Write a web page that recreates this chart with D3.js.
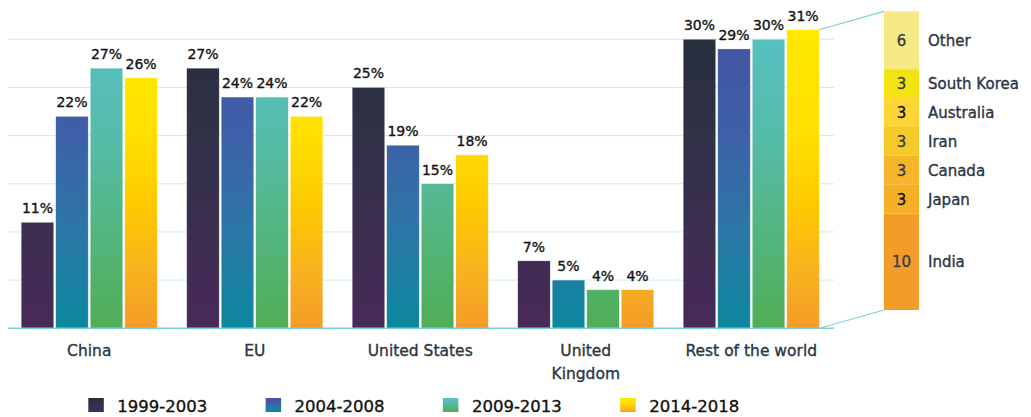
<!DOCTYPE html>
<html>
<head>
<meta charset="utf-8">
<script src="https://cdn.jsdelivr.net/npm/d3@7"></script>
<style>
  html, body { margin: 0; padding: 0; background: #ffffff; }
  svg { display: block; font-family: "DejaVu Sans", "Noto Sans", sans-serif; }
  svg text { stroke-width: 0.35px; paint-order: stroke; }
</style>
</head>
<body>
<svg id="chart" width="1031" height="417"></svg>
<script>
// Share of the total by region and period (%)
const regions = ["China", "EU", "United States", "United Kingdom", "Rest of the world"];
const regionLines = [["China"], ["EU"], ["United States"], ["United", "Kingdom"], ["Rest of the world"]];
const periods = ["1999-2003", "2004-2008", "2009-2013", "2014-2018"];
const p1999 = [11, 27, 25, 7, 30];
const p2004 = [22, 24, 19, 5, 29];
const p2009 = [27, 24, 15, 4, 30];
const p2014 = [26, 22, 18, 4, 31];
const seriesValues = [p1999, p2004, p2009, p2014];

// Breakdown of the rest of the world, 2014-2018 (stacked from the bottom)
const restNames = ["India", "Japan", "Canada", "Iran", "Australia", "South Korea", "Other"];
const restValues = [10, 3, 3, 3, 3, 3, 6];
const restColors = ["#f49c29", "#f6ae26", "#f7b52b", "#f6c92a", "#fdd536", "#f2e311", "#f6ea86"];
const restNumberColors = ["#3a3d44", "#111111", "#3a3d44", "#3a3d44", "#111111", "#3a3d44", "#3a3d44"];

const gridTicks = [5, 10, 15, 20, 25, 30];

// Vertical colour ramps for each period, spanning the whole plot height
const ramps = [
  [[0, "#262f3b"], [0.45, "#33314a"], [1, "#482a58"]],
  [[0, "#4453a3"], [0.35, "#3e60a8"], [0.7, "#2a78a6"], [1, "#0a889f"]],
  [[0, "#57c1c4"], [0.4, "#55bba6"], [0.7, "#53b57c"], [1, "#4fae55"]],
  [[0, "#ffe900"], [0.35, "#ffe100"], [0.6, "#fdc900"], [0.8, "#f8b41e"], [1, "#f49b28"]]
];

const svg = d3.select("#chart");

const y = d3.scaleLinear().domain([0, 30]).range([328.3, 39.3]);
const x0 = d3.scaleBand().domain(regions).range([6.5, 834]).paddingInner(0.178).paddingOuter(0.089);
const x1 = d3.scaleBand().domain(periods).range([0, x0.bandwidth()]).paddingInner(0.06);

// Gradients in user space, so short bars only show the lower colours
const defs = svg.append("defs");
ramps.forEach((stops, i) => {
  const g = defs.append("linearGradient")
    .attr("id", "ramp" + i)
    .attr("gradientUnits", "userSpaceOnUse")
    .attr("x1", 0).attr("x2", 0)
    .attr("y1", y(31.5)).attr("y2", y(0));
  stops.forEach(s => g.append("stop").attr("offset", s[0]).attr("stop-color", s[1]));
});
// Legend swatch gradients (per swatch box)
ramps.forEach((stops, i) => {
  const g = defs.append("linearGradient")
    .attr("id", "swatch" + i)
    .attr("x1", 0).attr("x2", 0).attr("y1", 0).attr("y2", 1);
  stops.forEach(s => g.append("stop").attr("offset", s[0]).attr("stop-color", s[1]));
});

// Grid
svg.append("g").selectAll("line").data(gridTicks).join("line")
  .attr("x1", 8).attr("x2", 834)
  .attr("y1", d => y(d)).attr("y2", d => y(d))
  .attr("stroke", "#cdebed").attr("stroke-width", 1);

// Bars
const groups = svg.append("g").selectAll("g").data(regions).join("g")
  .attr("transform", d => `translate(${x0(d)},0)`);

groups.each(function (region, ri) {
  const g = d3.select(this);
  periods.forEach((p, si) => {
    const v = seriesValues[si][ri];
    g.append("rect")
      .attr("x", x1(p)).attr("width", x1.bandwidth())
      .attr("y", y(v)).attr("height", y(0) - y(v))
      .attr("fill", `url(#ramp${si})`)
      .attr("stroke", "#ffffff").attr("stroke-opacity", 0.45).attr("stroke-width", 0.6);
    g.append("text")
      .attr("x", x1(p) + x1.bandwidth() / 2)
      .attr("y", y(v) - 9)
      .attr("text-anchor", "middle")
      .attr("font-size", 14)
      .attr("fill", "#141414").attr("stroke", "#141414")
      .text(v + "%");
  });
});

// Baseline
svg.append("line")
  .attr("x1", 8).attr("x2", 834)
  .attr("y1", y(0)).attr("y2", y(0))
  .attr("stroke", "#7ccfd4").attr("stroke-width", 1.6);

// Category labels
const catG = svg.append("g");
regions.forEach((r, i) => {
  const t = catG.append("text")
    .attr("x", x0(r) + x0.bandwidth() / 2)
    .attr("y", 356)
    .attr("text-anchor", "middle")
    .attr("font-size", 15.5)
    .attr("fill", "#2b3645").attr("stroke", "#2b3645");
  regionLines[i].forEach((line, li) => {
    t.append("tspan").attr("x", x0(r) + x0.bandwidth() / 2).attr("dy", li === 0 ? 0 : 23).text(line);
  });
});

// Rest of the world breakdown column
const stackX = 884, stackW = 35;
const yStack = d3.scaleLinear().domain([0, 31]).range([310, 310 - 31 * (y(0) - y(1))]);
const stacked = [];
let acc = 0;
restValues.forEach((v, i) => { stacked.push({ name: restNames[i], v, y0: acc, y1: acc + v, i }); acc += v; });

const lastRegion = regions[regions.length - 1];
const barRight = x0(lastRegion) + x1(periods[3]) + x1.bandwidth();
const total = d3.sum(restValues);

svg.append("line")
  .attr("x1", barRight).attr("y1", y(p2014[4]))
  .attr("x2", stackX).attr("y2", yStack(total))
  .attr("stroke", "#7ccfd4").attr("stroke-width", 1.1);
svg.append("line")
  .attr("x1", barRight).attr("y1", y(0))
  .attr("x2", stackX).attr("y2", yStack(0))
  .attr("stroke", "#7ccfd4").attr("stroke-width", 1.1);

const sg = svg.append("g");
sg.selectAll("rect").data(stacked).join("rect")
  .attr("x", stackX).attr("width", stackW)
  .attr("y", d => yStack(d.y1)).attr("height", d => yStack(d.y0) - yStack(d.y1))
  .attr("fill", d => restColors[d.i]);
sg.selectAll("text.num").data(stacked).join("text")
  .attr("class", "num")
  .attr("x", stackX + stackW / 2)
  .attr("y", d => (yStack(d.y0) + yStack(d.y1)) / 2)
  .attr("dy", "0.36em")
  .attr("text-anchor", "middle")
  .attr("font-size", 15)
  .attr("fill", d => restNumberColors[d.i]).attr("stroke", d => restNumberColors[d.i])
  .text(d => d.v);
sg.selectAll("text.name").data(stacked).join("text")
  .attr("class", "name")
  .attr("x", 928)
  .attr("y", d => (yStack(d.y0) + yStack(d.y1)) / 2)
  .attr("dy", "0.36em")
  .attr("font-size", 15)
  .attr("fill", "#2b3645").attr("stroke", "#2b3645")
  .text(d => d.name);

// Legend
const lg = svg.append("g");
periods.forEach((p, i) => {
  const lx = 88.3 + i * 177.3;
  lg.append("rect").attr("x", lx).attr("y", 398).attr("width", 15.5).attr("height", 14)
    .attr("fill", `url(#swatch${i})`);
  lg.append("text").attr("x", lx + 29).attr("y", 412)
    .attr("font-size", 16.5).attr("fill", "#111111").attr("stroke", "#111111").text(p);
});
</script>
</body>
</html>
